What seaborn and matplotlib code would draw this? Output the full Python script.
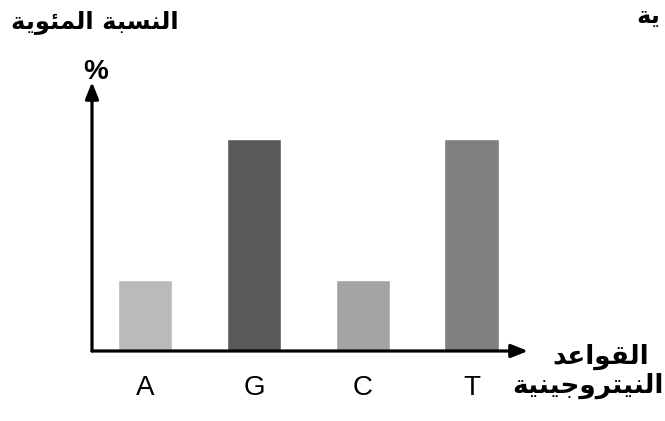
import numpy as np
import pandas as pd
import seaborn as sns
import matplotlib.pyplot as plt

# data
bases = ['A', 'G', 'C', 'T']
percent = [20, 60, 20, 60]
bar_colors = ['#bababa', '#595959', '#a4a4a4', '#7f7f7f']

y_title = 'النسبة المئوية'
y_unit = '%'
y_title_cut = 'ية'
x_title_1 = 'القواعد'
x_title_2 = 'النيتروجينية'

# matplotlib does no arabic shaping -> presentation forms, visual order
forms = {
    'ا': (0xFE8D, 0xFE8E, None, None),
    'ب': (0xFE8F, 0xFE90, 0xFE91, 0xFE92),
    'ة': (0xFE93, 0xFE94, None, None),
    'ت': (0xFE95, 0xFE96, 0xFE97, 0xFE98),
    'ج': (0xFE9D, 0xFE9E, 0xFE9F, 0xFEA0),
    'د': (0xFEA9, 0xFEAA, None, None),
    'ر': (0xFEAD, 0xFEAE, None, None),
    'س': (0xFEB1, 0xFEB2, 0xFEB3, 0xFEB4),
    'ع': (0xFEC9, 0xFECA, 0xFECB, 0xFECC),
    'ق': (0xFED5, 0xFED6, 0xFED7, 0xFED8),
    'ل': (0xFEDD, 0xFEDE, 0xFEDF, 0xFEE0),
    'م': (0xFEE1, 0xFEE2, 0xFEE3, 0xFEE4),
    'ن': (0xFEE5, 0xFEE6, 0xFEE7, 0xFEE8),
    'و': (0xFEED, 0xFEEE, None, None),
    'ي': (0xFEF1, 0xFEF2, 0xFEF3, 0xFEF4),
    'ئ': (0xFE89, 0xFE8A, 0xFE8B, 0xFE8C),
}


def shape(word):
    out = []
    for i, ch in enumerate(word):
        if ch not in forms:
            out.append(ch)
            continue
        prev = word[i - 1] if i > 0 else ''
        nxt = word[i + 1] if i + 1 < len(word) else ''
        join_prev = prev in forms and forms[prev][2] is not None
        join_next = nxt in forms and forms[ch][2] is not None
        iso, fin, ini, med = forms[ch]
        if join_prev and join_next:
            out.append(chr(med))
        elif join_prev:
            out.append(chr(fin))
        elif join_next:
            out.append(chr(ini))
        else:
            out.append(chr(iso))
    return ''.join(out)[::-1]


def ar(text):
    return ' '.join(shape(w) for w in text.split(' ')[::-1])


df = pd.DataFrame({'base': bases, 'pct': percent})

sns.set_style('white')
plt.rcParams['font.family'] = ['DejaVu Sans']
plt.rcParams['text.color'] = 'black'
plt.rcParams['xtick.color'] = 'black'

fig = plt.figure(figsize=(6.65, 4.21), dpi=100)
W, H = 665, 421
ax = fig.add_axes([92 / W, (H - 351) / H, (528 - 92) / W, (351 - 82) / H])

sns.barplot(data=df, x='base', y='pct', hue='base', palette=bar_colors,
            legend=False, width=0.5, saturation=1, ax=ax)
ax.set_xlim(-0.49, 3.52)
ax.set_ylim(0, 76)
for s in ax.spines.values():
    s.set_visible(False)
ax.set_yticks([])
ax.set_xlabel('')
ax.set_ylabel('')
ax.tick_params(axis='x', length=0, pad=17, labelcolor='black')
for lab in ax.get_xticklabels():
    lab.set_fontfamily('Liberation Sans')
    lab.set_fontsize(20)

# axes arrows
arrow = dict(arrowstyle='-|>,head_length=1.0,head_width=0.4', color='black',
             lw=2.3, shrinkA=0, shrinkB=0)
ax.annotate('', xy=(1, 0), xytext=(0, 0), xycoords='axes fraction',
            arrowprops=arrow, annotation_clip=False)
ax.annotate('', xy=(0, 1), xytext=(0, 0), xycoords='axes fraction',
            arrowprops=arrow, annotation_clip=False)

fig.text(95 / W, 1 - 22 / H, ar(y_title), ha='center', va='center',
         fontsize=17.5, fontweight='bold')
fig.text(96 / W, 1 - 72 / H, y_unit, ha='center', va='center',
         fontsize=20, fontweight='bold', family='Liberation Sans')
fig.text(660 / W, 1 - 16 / H, ar(y_title_cut), ha='right', va='center',
         fontsize=17.5, fontweight='bold')
fig.text(601 / W, 1 - 357 / H, ar(x_title_1), ha='center', va='center',
         fontsize=19, fontweight='bold')
fig.text(588 / W, 1 - 386 / H, ar(x_title_2), ha='center', va='center',
         fontsize=19, fontweight='bold')

fig.savefig('out.png', dpi=100)
